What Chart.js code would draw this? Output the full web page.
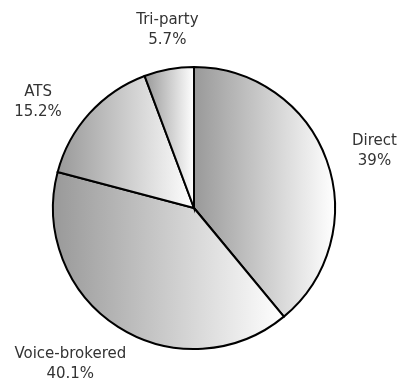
<!DOCTYPE html>
<html>
<head>
<meta charset="utf-8">
<script src="https://cdn.jsdelivr.net/npm/chart.js@4/dist/chart.umd.min.js"></script>
<style>
  html, body { margin: 0; padding: 0; background: #fff; }
  #wrap { width: 400px; height: 387px; position: relative; }
</style>
</head>
<body>
<div id="wrap"><canvas id="pie"></canvas></div>
<script>
// Repo-Marktanteile nach Handelsweg (Anteil in %).
const segments = ['Direct', 'Voice-brokered', 'ATS', 'Tri-party'];
const shares = [39, 40.1, 15.2, 5.7];
const shareLabels = ['39%', '40.1%', '15.2%', '5.7%'];

// Feinkorrektur der Beschriftungen gegenüber dem Anker auf der Segmentmitte.
const labelNudge = [[8, 5], [-25, 2], [-20, 17], [6, 2]];
const LABEL_RADIUS = 1.3;

// Horizontaler Verlauf je Segment: links grau, rechts weiß.
const gradientFill = {
  id: 'gradientFill',
  beforeDatasetsDraw(chart) {
    const ctx = chart.ctx;
    chart.getDatasetMeta(0).data.forEach((arc) => {
      const { x, startAngle, endAngle, outerRadius } = arc.getProps(
        ['x', 'startAngle', 'endAngle', 'outerRadius'], true);
      const xs = [x, x + outerRadius * Math.cos(startAngle), x + outerRadius * Math.cos(endAngle)];
      // Extrempunkte links/rechts, falls das Segment sie überstreicht.
      [0, Math.PI, 2 * Math.PI, -Math.PI].forEach((a) => {
        if (a >= startAngle && a <= endAngle) xs.push(x + outerRadius * Math.cos(a));
      });
      const g = ctx.createLinearGradient(Math.min(...xs), 0, Math.max(...xs), 0);
      g.addColorStop(0, '#999999');
      g.addColorStop(1, '#ffffff');
      arc.options = Object.assign({}, arc.options, { backgroundColor: g });
    });
  },
};

// Außenliegende Beschriftung: Name und Anteil in zwei Zeilen.
const outerLabels = {
  id: 'outerLabels',
  afterDatasetsDraw(chart) {
    const ctx = chart.ctx;
    ctx.save();
    ctx.font = '15px "DejaVu Sans", sans-serif';
    ctx.fillStyle = '#333333';
    ctx.textAlign = 'center';
    ctx.textBaseline = 'middle';
    chart.getDatasetMeta(0).data.forEach((arc, i) => {
      const { x, y, startAngle, endAngle, outerRadius } = arc.getProps(
        ['x', 'y', 'startAngle', 'endAngle', 'outerRadius'], true);
      const mid = (startAngle + endAngle) / 2;
      const lx = x + Math.cos(mid) * outerRadius * LABEL_RADIUS + labelNudge[i][0];
      const ly = y + Math.sin(mid) * outerRadius * LABEL_RADIUS + labelNudge[i][1];
      ctx.fillText(segments[i], lx, ly - 10);
      ctx.fillText(shareLabels[i], lx, ly + 10);
    });
    ctx.restore();
  },
};

new Chart(document.getElementById('pie'), {
  type: 'pie',
  data: {
    labels: segments,
    datasets: [{
      data: shares,
      backgroundColor: '#cccccc',
      borderColor: '#000000',
      borderWidth: 2,
      borderJoinStyle: 'miter',
    }],
  },
  options: {
    responsive: true,
    maintainAspectRatio: false,
    animation: false,
    layout: { padding: { left: 52, right: 64, top: 66, bottom: 37 } },
    plugins: {
      legend: { display: false },
      tooltip: { enabled: false },
    },
  },
  plugins: [gradientFill, outerLabels],
});
</script>
</body>
</html>
